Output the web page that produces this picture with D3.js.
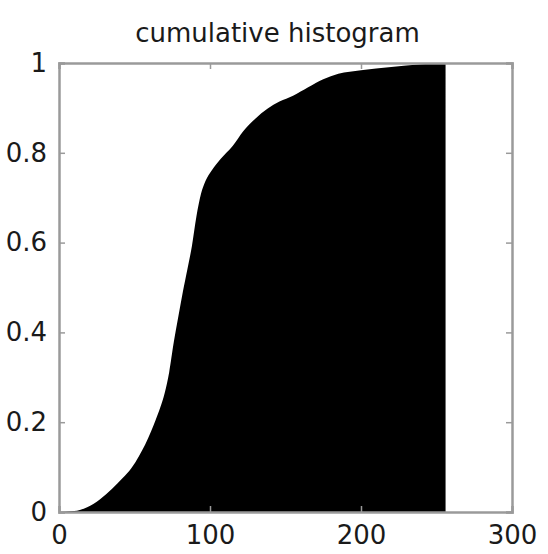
<!DOCTYPE html>
<html>
<head>
<meta charset="utf-8">
<script src="https://cdn.jsdelivr.net/npm/d3@7"></script>
<style>
  body { margin: 0; background: #fff; }
  text { font-family: "DejaVu Sans", sans-serif; fill: #1a1a1a; }
</style>
</head>
<body>
<svg id="chart"></svg>
<script>
const levels = [0, 10, 19, 27, 35, 42, 48, 53, 57, 61, 64, 67, 70, 73, 76, 79, 82, 85, 88, 91, 94, 97, 101, 107, 115, 122, 130, 138, 146, 155, 165, 175, 185, 200, 220, 240, 256];
const cumulative = [0, 0.002, 0.011, 0.028, 0.051, 0.075, 0.098, 0.125, 0.15, 0.18, 0.205, 0.232, 0.265, 0.312, 0.378, 0.435, 0.49, 0.54, 0.592, 0.658, 0.708, 0.737, 0.76, 0.786, 0.815, 0.848, 0.876, 0.898, 0.914, 0.927, 0.946, 0.964, 0.976, 0.984, 0.991, 0.997, 1.0];
const xTicks = [0, 100, 200, 300];
const yTicks = [0, 0.2, 0.4, 0.6, 0.8, 1];
const title = "cumulative histogram";

const width = 548;
const height = 554;
const margin = { top: 63, right: 36, bottom: 42, left: 59 };

const svg = d3.select("#chart")
  .attr("width", width)
  .attr("height", height);

const x = d3.scaleLinear()
  .domain([0, 300])
  .range([margin.left, width - margin.right]);

const y = d3.scaleLinear()
  .domain([0, 1])
  .range([height - margin.bottom, margin.top]);

const data = levels.map((d, i) => ({ level: d, value: cumulative[i] }));

// filled cumulative curve
const area = d3.area()
  .curve(d3.curveMonotoneX)
  .x(d => x(d.level))
  .y0(y(0))
  .y1(d => y(d.value));

svg.append("path")
  .datum(data)
  .attr("d", area)
  .attr("fill", "#000");

// box axes with ticks on all four sides, pointing in
const axisColor = "#9a9a9a";
const tickLen = 6;

svg.append("g")
  .attr("transform", `translate(0,${y(0)})`)
  .call(d3.axisBottom(x).tickValues(xTicks).tickSize(-tickLen).tickPadding(14).tickFormat(d3.format("d")));

svg.append("g")
  .attr("transform", `translate(0,${y(1)})`)
  .call(d3.axisTop(x).tickValues(xTicks).tickSize(-tickLen).tickFormat(""));

svg.append("g")
  .attr("transform", `translate(${x(0)},0)`)
  .call(d3.axisLeft(y).tickValues(yTicks).tickSize(-tickLen).tickPadding(12).tickFormat(d => d === 0 || d === 1 ? d : d3.format(".1f")(d)));

svg.append("g")
  .attr("transform", `translate(${x(300)},0)`)
  .call(d3.axisRight(y).tickValues(yTicks).tickSize(-tickLen).tickFormat(""));

svg.selectAll(".domain")
  .attr("stroke", axisColor)
  .attr("stroke-width", 2.5);

svg.selectAll(".tick line")
  .attr("stroke", axisColor)
  .attr("stroke-width", 1.5);

svg.selectAll(".tick text")
  .style("font-size", "26px")
  .attr("fill", "#1a1a1a");

svg.append("text")
  .attr("x", (x(0) + x(300)) / 2 - 8)
  .attr("y", 42)
  .attr("text-anchor", "middle")
  .style("font-size", "26px")
  .text(title);
</script>
</body>
</html>
